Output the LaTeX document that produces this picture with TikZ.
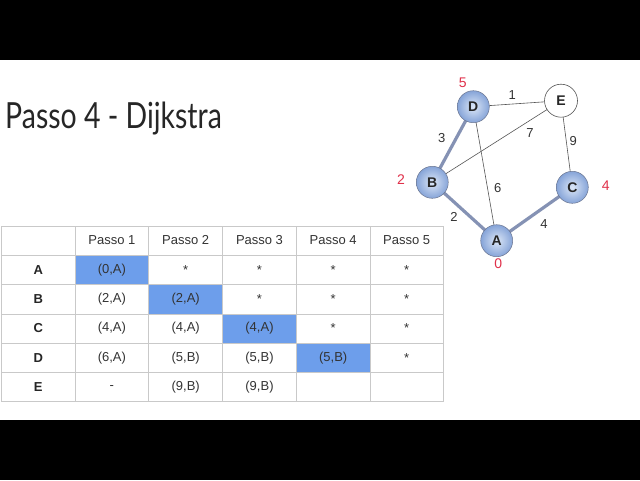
\documentclass[tikz,border=0pt]{standalone}
\usepackage{fontspec}
\setmainfont{Liberation Sans}
\newfontfamily\titlefont[FakeStretch=0.79]{Lato}
\definecolor{hlcell}{HTML}{6D9EEB}
\definecolor{gridc}{HTML}{C9C9C9}
\definecolor{txt}{HTML}{333333}
\definecolor{redl}{HTML}{E0304A}
\definecolor{thin}{HTML}{555555}
\definecolor{hledge}{HTML}{8592B4}
\definecolor{nodein}{HTML}{DCE7F7}
\definecolor{nodeout}{HTML}{86A4D8}
\begin{document}
\begin{tikzpicture}[x=1pt,y=-1pt,
  cellt/.style={font=\fontsize{13}{15}\selectfont, text=txt, inner sep=0pt},
  rowl/.style={font=\fontsize{13}{15}\selectfont\bfseries, text=black!85, inner sep=0pt},
  vert/.style={circle, minimum size=32pt, inner sep=0pt, draw=hledge!80!black, line width=0.5pt,
     inner color=nodein, outer color=nodeout, font=\fontsize{14}{16}\selectfont\bfseries, text=black!85},
  vertw/.style={circle, minimum size=33pt, inner sep=0pt, draw=thin, line width=0.6pt, fill=white,
     font=\fontsize{14}{16}\selectfont\bfseries, text=black!85},
  thinedge/.style={draw=thin, line width=0.6pt},
  hledgest/.style={draw=hledge, line width=3.2pt},
  wt/.style={font=\fontsize{13}{15}\selectfont, text=txt, inner sep=0pt},
  dist/.style={font=\fontsize{14}{16}\selectfont, text=redl, inner sep=0pt}]
\useasboundingbox (0,0) rectangle (640,480);
\fill[white] (0,0) rectangle (640,480);
\fill[black] (0,0) rectangle (640,60);
\fill[black] (0,420) rectangle (640,480);
% title
\node[anchor=base west, inner sep=0pt, font=\titlefont\fontsize{36}{40}\selectfont, text=black!85] (title) at (5,128.5) {Passo 4 - Dijkstra};
% table highlights
\def\xs{{1.7,75,148.7,222.7,296.3,370,443.3}}
\def\ys{{226,255,284.3,314,343.3,372.7,401.7}}
\fill[hlcell] (75,255) rectangle (148.7,284.3);
\fill[hlcell] (148.7,284.3) rectangle (222.7,314);
\fill[hlcell] (222.7,314) rectangle (296.3,343.3);
\fill[hlcell] (296.3,343.3) rectangle (370,372.7);
% grid
\foreach \i in {0,...,6} {
  \pgfmathsetmacro\xx{\xs[\i]}
  \pgfmathsetmacro\yy{\ys[\i]}
  \draw[gridc, line width=0.9pt] (\xx,226) -- (\xx,401.7);
  \draw[gridc, line width=0.9pt] (1.7,\yy) -- (443.3,\yy);
}
% header
\node[cellt] (h1) at (111.9,240.5) {Passo 1};
\node[cellt] (h2) at (185.7,240.5) {Passo 2};
\node[cellt] (h3) at (259.5,240.5) {Passo 3};
\node[cellt] (h4) at (333.2,240.5) {Passo 4};
\node[cellt] (h5) at (406.7,240.5) {Passo 5};
% row labels
\node[rowl] (rA) at (38.3,269.7) {A};
\node[rowl] (rB) at (38.3,299) {B};
\node[rowl] (rC) at (38.3,328.5) {C};
\node[rowl] (rD) at (38.3,358) {D};
\node[rowl] (rE) at (38.3,387.2) {E};
% row A
\node[cellt] (a1) at (111.9,269.7) {(0,A)};
\node[cellt] (a2) at (185.7,269.7) {*};
\node[cellt] (a3) at (259.5,269.7) {*};
\node[cellt] (a4) at (333.2,269.7) {*};
\node[cellt] (a5) at (406.7,269.7) {*};
% row B
\node[cellt] (b1) at (111.9,299) {(2,A)};
\node[cellt] (b2) at (185.7,299) {(2,A)};
\node[cellt] (b3) at (259.5,299) {*};
\node[cellt] (b4) at (333.2,299) {*};
\node[cellt] (b5) at (406.7,299) {*};
% row C
\node[cellt] (c1) at (111.9,328.5) {(4,A)};
\node[cellt] (c2) at (185.7,328.5) {(4,A)};
\node[cellt] (c3) at (259.5,328.5) {(4,A)};
\node[cellt] (c4) at (333.2,328.5) {*};
\node[cellt] (c5) at (406.7,328.5) {*};
% row D
\node[cellt] (d1) at (111.9,358) {(6,A)};
\node[cellt] (d2) at (185.7,358) {(5,B)};
\node[cellt] (d3) at (259.5,358) {(5,B)};
\node[cellt] (d4) at (333.2,358) {(5,B)};
\node[cellt] (d5) at (406.7,358) {*};
% row E
\node[cellt] (e1) at (111.9,387.2) {-};
\node[cellt] (e2) at (185.7,387.2) {(9,B)};
\node[cellt] (e3) at (259.5,387.2) {(9,B)};
% graph nodes
\coordinate (pD) at (473.3,106.7);
\coordinate (pE) at (561,100.7);
\coordinate (pB) at (432.3,182.3);
\coordinate (pC) at (572.3,187.3);
\coordinate (pA) at (496.7,240.7);
\draw[thinedge] (pD) -- (pE);
\draw[thinedge] (pB) -- (pE);
\draw[thinedge] (pD) -- (pA);
\draw[thinedge] (pE) -- (pC);
\draw[hledgest] (pD) -- (pB);
\draw[hledgest] (pB) -- (pA);
\draw[hledgest] (pA) -- (pC);
\node[vert] (D) at (pD) {D};
\node[vertw] (E) at (pE) {E};
\node[vert] (B) at (pB) {B};
\node[vert] (C) at (pC) {C};
\node[vert] (A) at (pA) {A};
% weights
\node[wt] (w1) at (512.3,95) {1};
\node[wt] (w7) at (530,132.7) {7};
\node[wt] (w9) at (573.3,141) {9};
\node[wt] (w3) at (441.7,138.3) {3};
\node[wt] (w6) at (497.7,187.7) {6};
\node[wt] (w2) at (454,216.7) {2};
\node[wt] (w4) at (544,224) {4};
% distances
\node[dist] (dD) at (462.7,83) {5};
\node[dist] (dB) at (401,179.5) {2};
\node[dist] (dC) at (605.7,185.5) {4};
\node[dist] (dA) at (498.3,263.5) {0};
\end{tikzpicture}
\end{document}
